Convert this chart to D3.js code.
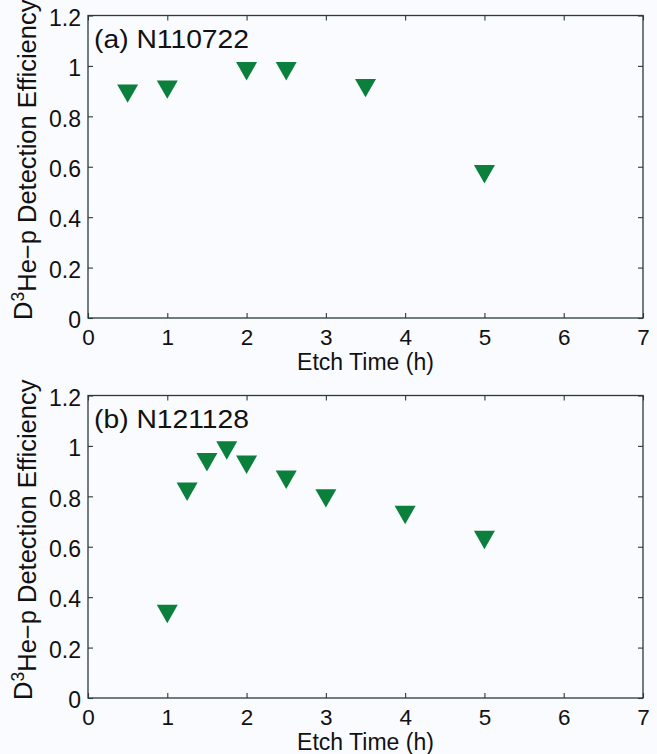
<!DOCTYPE html>
<html><head><meta charset="utf-8">
<script src="https://cdn.jsdelivr.net/npm/d3@7/dist/d3.min.js"></script>
<style>
html,body{margin:0;padding:0;background:#fafbfe;}
svg{display:block;}
text{font-family:"Liberation Sans",Arial,Helvetica,sans-serif;fill:#111;}
</style></head>
<body>
<svg id="chart" width="657" height="754"></svg>
<script>
// ---- data ----
const panelTitles = ["(a) N110722", "(b) N121128"];
const etchTimeA = [0.5, 1, 2, 2.5, 3.5, 5];
const efficiencyA = [0.89, 0.906, 0.979, 0.979, 0.912, 0.57];
const etchTimeB = [1, 1.25, 1.5, 1.75, 2, 2.5, 3, 4, 5];
const efficiencyB = [0.333, 0.818, 0.935, 0.982, 0.925, 0.866, 0.792, 0.726, 0.627];
const xTicks = [0, 1, 2, 3, 4, 5, 6, 7];
const yTicks = [0, 0.2, 0.4, 0.6, 0.8, 1, 1.2];
const xLabel = "Etch Time (h)";

const svg = d3.select("#chart");
const axisColor = "#2b3a3a";
const markerColor = "#0b7f3c";

const panels = [
  {title: panelTitles[0], xs: etchTimeA, ys: efficiencyA, top: 15.5, bottom: 318},
  {title: panelTitles[1], xs: etchTimeB, ys: efficiencyB, top: 395.5, bottom: 698}
];
const left = 88, right = 643;

const x = d3.scaleLinear().domain([0, 7]).range([left, right]);

panels.forEach(p => {
  const y = d3.scaleLinear().domain([0, 1.2]).range([p.bottom, p.top]);
  const g = svg.append("g");

  g.append("rect").attr("x", left).attr("y", p.top)
    .attr("width", right - left).attr("height", p.bottom - p.top)
    .attr("fill", "none").attr("stroke", axisColor).attr("stroke-width", 1.3);

  const tl = 5;
  const xb = g.append("g").attr("transform", `translate(0,${p.bottom})`)
    .call(d3.axisBottom(x).tickValues(xTicks).tickFormat(d3.format("d")).tickSizeInner(-tl).tickSizeOuter(0));
  const xt = g.append("g").attr("transform", `translate(0,${p.top})`)
    .call(d3.axisTop(x).tickValues(xTicks).tickFormat("").tickSizeInner(-tl).tickSizeOuter(0));
  const yl = g.append("g").attr("transform", `translate(${left},0)`)
    .call(d3.axisLeft(y).tickValues(yTicks).tickFormat(d => d3.format("~g")(d)).tickSizeInner(-tl).tickSizeOuter(0).tickPadding(7));
  const yr = g.append("g").attr("transform", `translate(${right},0)`)
    .call(d3.axisRight(y).tickValues(yTicks).tickFormat("").tickSizeInner(-tl).tickSizeOuter(0));

  [xb, xt, yl, yr].forEach(a => {
    a.select(".domain").remove();
    a.selectAll("line").attr("stroke", axisColor).attr("stroke-width", 1.1);
    a.selectAll("text").style("font-size", "23px").attr("fill", "#111");
  });
  xb.selectAll("text").style("font-size", "22.5px").attr("y", 26.5).attr("dy", 0);
  yl.selectAll("text").attr("dy", "0.42em");

  const w = 10.5, h = 9.2;
  g.selectAll("path.mk").data(p.xs.map((d, i) => [d, p.ys[i]])).enter()
    .append("path").attr("class", "mk")
    .attr("d", `M${-w},${-h}L${w},${-h}L0,${h}Z`)
    .attr("transform", d => `translate(${x(d[0])},${y(d[1])})`)
    .attr("fill", markerColor);

  g.append("text").attr("x", 94).attr("y", p.top + 32)
    .attr("textLength", 155).attr("lengthAdjust", "spacingAndGlyphs")
    .style("font-size", "26px").text(p.title);

  g.append("text").attr("x", (left + right) / 2).attr("y", p.bottom + 52)
    .attr("text-anchor", "middle").style("font-size", "23px").text(xLabel);

  const cy = (p.top + p.bottom) / 2 - 7;
  const yt = g.append("text").attr("transform", `translate(32,${cy}) rotate(-90)`)
    .attr("text-anchor", "middle").style("font-size", "25.5px");
  yt.append("tspan").text("D");
  yt.append("tspan").attr("dy", "-0.45em").style("font-size", "17.5px").text("3");
  yt.append("tspan").attr("dy", "0.45em").text("He\u2212p Detection Efficiency");
});
</script>
</body></html>
